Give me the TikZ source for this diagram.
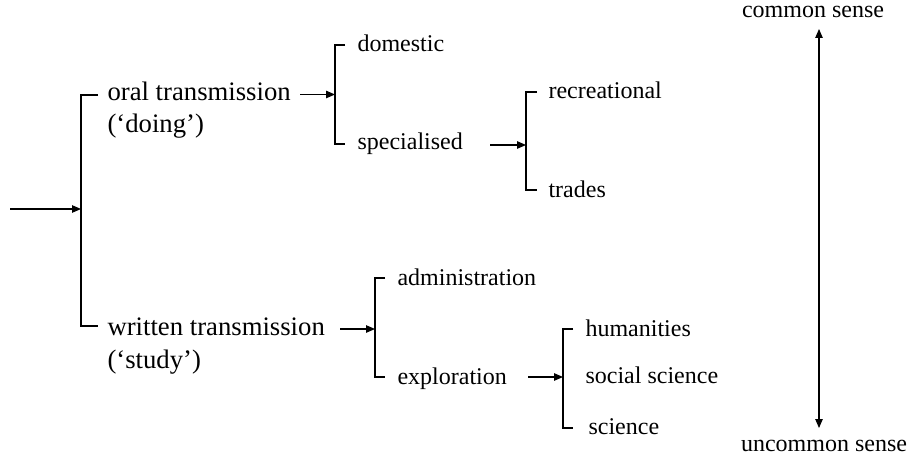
\documentclass[tikz,border=0pt]{standalone}
\usepackage{fontspec}
\setmainfont{Liberation Serif}
\newfontfamily\timesface{Liberation Serif}
\usetikzlibrary{arrows.meta}
\begin{document}
\begin{tikzpicture}[x=1pt,y=-1pt,
  line width=1.1pt,
  big/.style={font=\timesface\fontsize{26.7}{32}\selectfont, inner sep=0pt, anchor=base west},
  small/.style={font=\timesface\fontsize{24}{28}\selectfont, inner sep=0pt, anchor=base west},
  sidelabel/.style={font=\timesface\fontsize{24}{28}\selectfont, inner sep=0pt, anchor=base},
  bracket/.style={line width=1.1pt},
  feed/.style={-{Triangle[length=9pt,width=7.5pt]}, line width=1.1pt},
  scale arrow/.style={{Triangle[length=9pt,width=7.5pt]}-{Triangle[length=9pt,width=7.5pt]}, line width=1.1pt}]
\useasboundingbox (0,0) rectangle (907,457);

% ---- first split: oral / written ----
\coordinate (start) at (10,209);
\coordinate (b1top) at (81,95);
\coordinate (b1bot) at (81,326);
\coordinate (b1mid) at (81,209);
\draw[bracket] (98,95) -- (b1top) -- (b1bot) -- (98,326);
\draw[feed] (start) -- (b1mid);

\node[big] (oral)  at (107,101) {oral transmission};
\node[big] (doing) at (107,133) {(‘doing’)};
\node[big] (written) at (107,335) {written transmission};
\node[big] (study)   at (107,368) {(‘study’)};

% ---- oral branch ----
\coordinate (oralout) at (300,94.5);
\coordinate (b2mid) at (335,94.5);
\draw[bracket] (345,45) -- (335,45) -- (335,144) -- (345,144);
\draw[feed] (oralout) -- (b2mid);
\node[small] (domestic)    at (357,52)  {domestic};
\node[small] (specialised) at (357,150) {specialised};

\coordinate (specout) at (490,145);
\coordinate (b3mid) at (526,145);
\draw[bracket] (537,92) -- (526,92) -- (526,190) -- (537,190);
\draw[feed] (specout) -- (b3mid);
\node[small] (recreational) at (548,99)  {recreational};
\node[small] (trades)       at (548,197) {trades};

% ---- written branch ----
\coordinate (writout) at (340,329);
\coordinate (b4mid) at (375,329);
\draw[bracket] (385,278) -- (375,278) -- (375,377) -- (385,377);
\draw[feed] (writout) -- (b4mid);
\node[small] (admin)       at (397,285) {administration};
\node[small] (exploration) at (397,384) {exploration};

\coordinate (explout) at (528,377);
\coordinate (b5mid) at (563,377);
\draw[bracket] (573,329) -- (563,329) -- (563,428) -- (573,428);
\draw[feed] (explout) -- (b5mid);
\node[small] (humanities) at (585,336) {humanities};
\node[small] (social)     at (585,383) {social science};
\node[small] (science)    at (588,434) {science};

% ---- scale on the right ----
\node[sidelabel] (common)   at (813,18)  {common sense};
\node[sidelabel] (uncommon) at (824,451) {uncommon sense};
\coordinate (scaletop) at (819,29);
\coordinate (scalebot) at (819,428);
\draw[scale arrow] (scaletop) -- (scalebot);
\end{tikzpicture}
\end{document}
